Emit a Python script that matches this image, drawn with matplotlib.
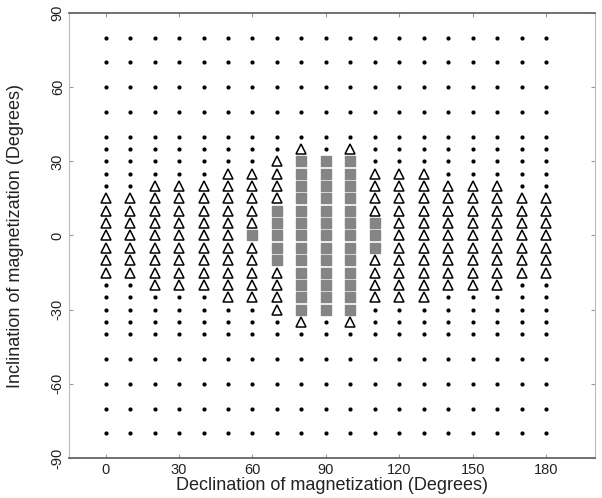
import matplotlib
matplotlib.use("Agg")
import matplotlib.pyplot as plt
import numpy as np

plt.rcParams['font.family'] = ['Liberation Sans', 'DejaVu Sans']
plt.rcParams['axes.unicode_minus'] = False

# Grid of trial magnetization directions
declination = [0, 10, 20, 30, 40, 50, 60, 70, 80, 90,
               100, 110, 120, 130, 140, 150, 160, 170, 180]
inclination = [80, 70, 60, 50, 40, 35, 30, 25, 20, 15, 10, 5, 0,
               -5, -10, -15, -20, -25, -30, -35, -40, -50, -60, -70, -80]

# Half-width (degrees of inclination) of the triangle band in each column
triangle_extent = [15, 15, 20, 20, 20, 25, 25, 30, 35, 0,
                   35, 25, 25, 25, 20, 20, 20, 15, 15]
# Half-width of the filled-square band in each column (-1 = none)
square_extent = [-1, -1, -1, -1, -1, -1, 0, 10, 30, 30,
                 30, 5, -1, -1, -1, -1, -1, -1, -1]

dots_x, dots_y, tri_x, tri_y, sq_x, sq_y = [], [], [], [], [], []
for d, te, se in zip(declination, triangle_extent, square_extent):
    for inc in inclination:
        if abs(inc) <= se:
            sq_x.append(d); sq_y.append(inc)
        elif abs(inc) <= te:
            tri_x.append(d); tri_y.append(inc)
        else:
            dots_x.append(d); dots_y.append(inc)

fig = plt.figure(figsize=(6.02, 4.98), dpi=100)
ax = fig.add_axes([69 / 602, 40 / 498, 526 / 602, 445 / 498])

ax.plot(dots_x, dots_y, linestyle='none', marker='o', markersize=2.0,
        color='black')
ax.plot(tri_x, tri_y, linestyle='none', marker='^', markersize=7.5,
        markerfacecolor='none', markeredgecolor='black', markeredgewidth=1.1)
ax.plot(sq_x, sq_y, linestyle='none', marker='s', markersize=7,
        markerfacecolor='#858585', markeredgecolor='#858585')

ax.set_xlim(-15, 200)
ax.set_ylim(-90, 90)
ax.set_xticks([0, 30, 60, 90, 120, 150, 180])
ax.set_yticks([-90, -60, -30, 0, 30, 60, 90])
ax.tick_params(direction='in', length=3, width=0.8, colors='#999999',
               labelcolor='#222222', labelsize=10.5, top=True, right=True)
ax.tick_params(axis='y', pad=3)
for lbl in ax.get_yticklabels():
    lbl.set_rotation(90)
    lbl.set_va('center')

for side in ['top', 'bottom']:
    ax.spines[side].set_color('#666666')
    ax.spines[side].set_linewidth(1.3)
for side in ['left', 'right']:
    ax.spines[side].set_color('#bbbbbb')
    ax.spines[side].set_linewidth(0.8)

ax.set_xlabel('Declination of magnetization (Degrees)', fontsize=13,
              color='#222222', labelpad=0)
ax.set_ylabel('Inclination of magnetization (Degrees)', fontsize=13,
              color='#222222', va='center')
ax.yaxis.set_label_coords(-53 / 526, 0.5)

fig.savefig('out.png', dpi=100, facecolor='white')
